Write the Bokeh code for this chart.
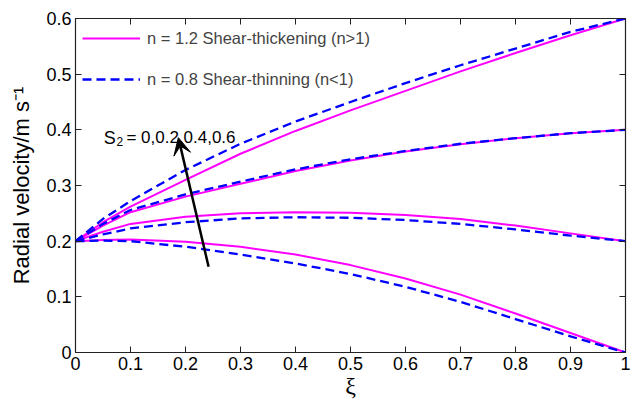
from bokeh.plotting import figure
from bokeh.models import (LinearAxis, FixedTicker, Arrow, VeeHead, Label, Legend,
                          LegendItem, Range1d)
from bokeh.embed import file_html
from bokeh.resources import INLINE

# ---- data ----
xi = [0.0, 0.05, 0.1, 0.2, 0.3, 0.4, 0.5, 0.6, 0.7, 0.8, 0.9, 1.0]

# n = 1.2 (shear-thickening), S2 = 0, 0.2, 0.4, 0.6
thick_s0 = [0.2, 0.202, 0.203, 0.199, 0.190, 0.176, 0.157, 0.133, 0.104, 0.070, 0.035, 0.0]
thick_s02 = [0.2, 0.217, 0.231, 0.244, 0.250, 0.252, 0.251, 0.247, 0.240, 0.228, 0.214, 0.2]
thick_s04 = [0.2, 0.228, 0.252, 0.280, 0.303, 0.326, 0.345, 0.361, 0.374, 0.385, 0.394, 0.4]
thick_s06 = [0.2, 0.234, 0.262, 0.310, 0.357, 0.398, 0.435, 0.470, 0.505, 0.538, 0.570, 0.6]

# n = 0.8 (shear-thinning), S2 = 0, 0.2, 0.4, 0.6
thin_s0 = [0.2, 0.201, 0.200, 0.190, 0.176, 0.160, 0.141, 0.118, 0.091, 0.060, 0.029, 0.0]
thin_s02 = [0.2, 0.212, 0.223, 0.234, 0.241, 0.243, 0.242, 0.238, 0.231, 0.221, 0.210, 0.2]
thin_s04 = [0.2, 0.231, 0.256, 0.284, 0.307, 0.329, 0.347, 0.362, 0.375, 0.385, 0.394, 0.4]
thin_s06 = [0.2, 0.240, 0.272, 0.328, 0.375, 0.415, 0.450, 0.484, 0.516, 0.546, 0.576, 0.6]

thick_series = [thick_s0, thick_s02, thick_s04, thick_s06]
thin_series = [thin_s0, thin_s02, thin_s04, thin_s06]

legend_labels = ["n = 1.2 Shear-thickening (n>1)", "n = 0.8 Shear-thinning (n<1)"]

x_ticks = [0, 0.1, 0.2, 0.3, 0.4, 0.5, 0.6, 0.7, 0.8, 0.9, 1]
x_tick_labels = ["0", "0.1", "0.2", "0.3", "0.4", "0.5", "0.6", "0.7", "0.8", "0.9", "1"]
y_ticks = [0, 0.1, 0.2, 0.3, 0.4, 0.5, 0.6]
y_tick_labels = ["0", "0.1", "0.2", "0.3", "0.4", "0.5", "0.6"]

arrow_xi = [0.242, 0.187]
arrow_u = [0.154, 0.386]
annot_xi = [0.0515, 0.0745, 0.0925]
annot_u = [0.386, 0.379, 0.386]
annot_text = ["S", "2", "= 0,0.2,0.4,0.6"]

x_label = "ξ"
y_label = "Radial velocity/m s⁻¹"

# ---- figure ----
FONT = "Liberation Sans"
AX_COL = "#222222"

p = figure(width=632, height=406, x_range=Range1d(0, 1), y_range=Range1d(0, 0.6),
           output_backend="svg", toolbar_location=None,
           min_border_left=75, min_border_right=7, min_border_top=18, min_border_bottom=54)
p.background_fill_color = "white"
p.border_fill_color = "white"
p.outline_line_color = None
p.xgrid.grid_line_color = None
p.ygrid.grid_line_color = None

thick_renderers = []
for ys in thick_series:
    r = p.line(xi, ys, line_color="#ff00ff", line_width=2)
    thick_renderers.append(r)
thin_renderers = []
for ys in thin_series:
    r = p.line(xi, ys, line_color="#0000ff", line_width=2.3, line_dash="9 5")
    thin_renderers.append(r)


def style_axis(ax, ticks, labels, show_labels=True):
    ax.ticker = FixedTicker(ticks=ticks)
    ax.major_label_overrides = {t: l for t, l in zip(ticks, labels)}
    ax.minor_tick_line_color = None
    ax.major_tick_in = 6
    ax.major_tick_out = 0
    ax.major_tick_line_color = AX_COL
    ax.axis_line_color = AX_COL
    ax.axis_line_width = 1.2
    ax.major_label_text_font = FONT
    ax.major_label_text_color = "black"
    ax.axis_label_text_font = FONT
    ax.axis_label_text_font_style = "normal"
    ax.axis_label_text_color = "black"
    if show_labels:
        ax.major_label_text_font_size = "18px"
        ax.major_label_standoff = 4
    else:
        ax.major_label_text_font_size = "0px"
        ax.major_label_standoff = 0
        ax.major_label_text_color = None


xaxis = p.xaxis[0]
yaxis = p.yaxis[0]
style_axis(xaxis, x_ticks, x_tick_labels)
style_axis(yaxis, y_ticks, y_tick_labels)
xaxis.axis_label = x_label
xaxis.axis_label_text_font = "Liberation Serif"
xaxis.axis_label_text_font_size = "24px"
xaxis.axis_label_standoff = 0
yaxis.axis_label = y_label
yaxis.axis_label_text_font_size = "22px"
yaxis.axis_label_standoff = 9

top_axis = LinearAxis()
style_axis(top_axis, x_ticks, x_tick_labels, show_labels=False)
p.add_layout(top_axis, "above")
right_axis = LinearAxis()
style_axis(right_axis, y_ticks, y_tick_labels, show_labels=False)
p.add_layout(right_axis, "right")

legend = Legend(items=[LegendItem(label=legend_labels[0], renderers=[thick_renderers[0]]),
                       LegendItem(label=legend_labels[1], renderers=[thin_renderers[0]])],
                location="top_left")
legend.border_line_color = None
legend.background_fill_alpha = 0
legend.label_text_font = FONT
legend.label_text_font_size = "16.5px"
legend.glyph_width = 58
legend.glyph_height = 26
legend.label_height = 26
legend.spacing = 15
legend.padding = 7
legend.margin = 7
legend.label_standoff = 7
p.add_layout(legend)

arrow = Arrow(x_start=arrow_xi[0], y_start=arrow_u[0], x_end=arrow_xi[1], y_end=arrow_u[1],
              line_color="black", line_width=2.5,
              end=VeeHead(size=17, fill_color="black", line_color="black"))
p.add_layout(arrow)

sizes = ["18px", "12px", "17px"]
for tx, ty, tt, sz in zip(annot_xi, annot_u, annot_text, sizes):
    p.add_layout(Label(x=tx, y=ty, text=tt, text_font=FONT, text_font_size=sz,
                       text_baseline="alphabetic", text_align="left", text_color="black"))

open("out.html", "w").write(file_html(p, INLINE))
